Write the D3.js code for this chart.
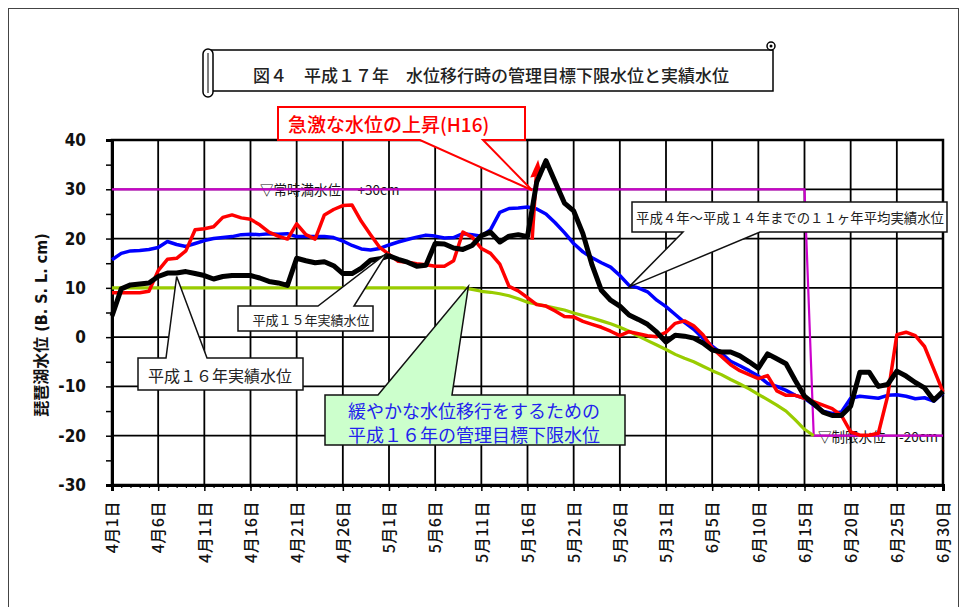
<!DOCTYPE html>
<html><head><meta charset="utf-8">
<script src="https://cdn.jsdelivr.net/npm/d3@7"></script>
<style>
body{margin:0;background:#fff;}
svg{display:block;}
</style></head><body>
<svg id="c" width="965" height="607"></svg>
<script>
// ---------- data ----------
const dayLabels = ["4月1日","4月6日","4月11日","4月16日","4月21日","4月26日","5月1日","5月6日","5月11日","5月16日","5月21日","5月26日","5月31日","6月5日","6月10日","6月15日","6月20日","6月25日","6月30日"];
const dayLabelIndex = [0,5,10,15,20,25,30,35,40,45,50,55,60,65,70,75,80,85,90];
const yTickValues = [-30,-20,-10,0,10,20,30,40];

// 平成4年～平成14年までの11ヶ年平均実績水位 (blue), daily from 4/1
const avgLevel = [15.7,17.0,17.5,17.6,17.8,18.2,19.4,18.8,18.4,19.0,
  19.6,20.0,20.2,20.4,20.8,20.9,20.8,21.0,20.9,21.0,
  20.4,20.4,20.4,20.4,20.2,19.5,18.6,17.9,17.7,18.0,
  18.7,19.3,19.8,20.3,20.7,20.5,20.1,20.2,21.0,20.8,
  20.5,21.8,25.3,26.1,26.2,26.4,26.0,25.0,23.2,21.2,
  19.0,17.3,16.1,15.1,14.2,12.5,10.5,10.0,9.2,7.5,
  6.2,4.6,3.0,1.6,-0.2,-1.8,-3.3,-4.9,-5.8,-6.8,
  -7.9,-9.4,-10.0,-10.8,-11.8,-12.4,-13.8,-15.0,-15.5,-15.2,
  -12.4,-12.0,-12.2,-12.4,-11.8,-11.7,-12.0,-12.5,-12.3,-13.0,-11.3];

// red series, daily from 4/1
const redLevel = [9.0,9.0,9.0,9.0,9.3,13.5,15.8,16.0,17.5,21.8,
  22.0,22.4,24.3,24.8,24.2,23.9,22.8,21.3,20.5,19.9,
  23.0,20.8,19.9,24.8,25.9,26.7,26.8,23.5,20.8,18.2,
  16.8,15.4,15.2,14.9,14.7,14.4,14.4,15.5,21.3,20.3,
  18.0,17.0,14.8,10.3,9.4,8.0,6.6,6.3,5.3,4.2,
  4.1,3.2,2.6,2.0,1.2,0.3,1.1,0.7,0.3,0.1,
  1.0,2.8,3.3,2.3,0.5,-2.2,-3.9,-5.6,-6.8,-7.6,
  -8.4,-7.8,-10.9,-11.8,-11.8,-12.4,-13.1,-13.8,-14.5,-15.9,
  -19.2,-19.9,-19.9,-19.5,-12.0,0.5,1.0,0.3,-1.9,-6.5,-11.1];

// black series, daily from 4/1
const blackLevel = [4.3,9.8,10.6,10.8,11.0,12.3,13.0,13.0,13.3,12.9,
  12.5,11.8,12.3,12.5,12.5,12.5,12.0,11.3,11.0,10.5,
  16.0,15.5,15.1,15.3,14.5,12.9,12.9,14.0,15.6,15.9,
  16.5,15.8,15.2,14.4,14.6,19.0,18.9,18.1,17.8,18.6,
  20.6,21.3,19.3,20.5,20.8,20.4,31.5,35.8,31.5,27.2,
  25.6,21.0,14.6,9.5,7.5,6.3,4.5,3.6,2.6,1.0,
  -1.0,0.4,0.2,-0.2,-1.2,-2.6,-3.0,-3.0,-3.8,-5.0,
  -6.3,-3.4,-4.4,-5.4,-8.8,-12.0,-13.5,-15.2,-15.9,-15.9,
  -14.0,-7.1,-7.1,-10.0,-9.6,-6.9,-7.9,-9.2,-10.3,-12.8,-11.0];

// 平成16年の管理目標下限水位 (green), daily from 4/1 to 6/16
const targetLevel = [10,10,10,10,10,10,10,10,10,10,
  10,10,10,10,10,10,10,10,10,10,
  10,10,10,10,10,10,10,10,10,10,
  10,10,10,10,10,10,10,10,10,9.7,
  9.3,9.1,8.8,8.4,7.8,7.1,6.7,6.3,5.9,5.5,
  4.9,4.4,3.9,3.3,2.7,2.0,1.2,0.2,-0.7,-1.6,
  -2.5,-3.5,-4.3,-5.0,-5.9,-6.8,-7.6,-8.6,-9.5,-10.5,
  -11.6,-12.7,-13.8,-15.0,-16.8,-18.7,-20.0];

// 常時満水位 +30cm / 制限水位 -20cm (magenta)
const ruleDays = [0,75,76,90];
const ruleLevel = [30,30,-20,-20];

// ---------- drawing ----------
const svg = d3.select('#c');
const JP = '"Noto Sans CJK JP","Noto Sans CJK SC",sans-serif';
const NARROW = '"Liberation Sans Narrow","DejaVu Sans Condensed","Liberation Sans",sans-serif';

const x = d3.scaleLinear().domain([0,90]).range([112,943]);
const y = d3.scaleLinear().domain([-30,40]).range([485,140]);

// outer chart border
svg.append('rect').attr('x',8.5).attr('y',8.5).attr('width',950).attr('height',640)
  .attr('fill','none').attr('stroke','#444').attr('stroke-width',1);

// title banner
const tb = svg.append('g');
tb.append('rect').attr('x',209).attr('y',50).attr('width',564).attr('height',41)
  .attr('fill','#fff').attr('stroke','#000').attr('stroke-width',1.5);
tb.append('rect').attr('x',203).attr('y',49).attr('width',10).attr('height',48).attr('rx',5)
  .attr('fill','#fff').attr('stroke','#000').attr('stroke-width',1.5);
tb.append('line').attr('x1',208).attr('x2',208).attr('y1',53).attr('y2',93).attr('stroke','#000').attr('stroke-width',1);
tb.append('circle').attr('cx',771).attr('cy',46).attr('r',4)
  .attr('fill','#fff').attr('stroke','#000').attr('stroke-width',1.5);
tb.append('circle').attr('cx',771).attr('cy',46).attr('r',1.5).attr('fill','#000');
tb.append('text').attr('x',491).attr('y',74).attr('text-anchor','middle').attr('dominant-baseline','central')
  .attr('font-family',JP).attr('font-size',17).attr('font-weight','500').attr('fill','#222')
  .text('図４　平成１７年　水位移行時の管理目標下限水位と実績水位');

// grid
const grid = svg.append('g');
grid.selectAll('line.v').data(d3.range(5,90,5)).join('line').attr('class','v')
  .attr('x1',d=>x(d)).attr('x2',d=>x(d)).attr('y1',y(40)).attr('y2',y(-30))
  .attr('stroke','#000').attr('stroke-width',1.8);
grid.selectAll('line.h').data(d3.range(-20,40,10)).join('line').attr('class','h')
  .attr('x1',x(0)).attr('x2',x(90)).attr('y1',d=>y(d)).attr('y2',d=>y(d))
  .attr('stroke','#000').attr('stroke-width',1.8);
svg.append('rect').attr('x',x(0)).attr('y',y(40)).attr('width',x(90)-x(0)).attr('height',y(-30)-y(40))
  .attr('fill','none').attr('stroke','#000').attr('stroke-width',2.5);

// axes
const yAxis = svg.append('g').attr('transform',`translate(${x(0)},0)`)
  .call(d3.axisLeft(y).tickValues(d3.range(-30,41,5)).tickSize(6).tickPadding(20)
    .tickFormat(d=> yTickValues.includes(d) ? String(d) : ''));
yAxis.select('.domain').attr('stroke-width',3);
yAxis.selectAll('.tick line').attr('stroke-width',1.5);
yAxis.selectAll('text').attr('font-family',NARROW).attr('font-weight','bold').attr('font-size',17).attr('fill','#111');

const xMinor = svg.append('g').attr('transform',`translate(0,${y(-30)})`)
  .call(d3.axisBottom(x).tickValues(d3.range(0,91,1)).tickSize(3).tickFormat(''));
xMinor.select('.domain').remove();
xMinor.selectAll('.tick line').attr('stroke-width',1.2);
const xAxis = svg.append('g').attr('transform',`translate(0,${y(-30)})`)
  .call(d3.axisBottom(x).tickValues(dayLabelIndex).tickSize(6).tickFormat((d,i)=>dayLabels[i]));
xAxis.select('.domain').attr('stroke-width',3);
xAxis.selectAll('.tick line').attr('stroke-width',1.5);
xAxis.selectAll('text').attr('transform','rotate(-90)').attr('text-anchor','end')
  .attr('x',-16).attr('y',0).attr('dy','0.36em')
  .attr('font-family',JP).attr('font-size',16).attr('font-weight','500').attr('fill','#111').attr('letter-spacing','0.5px');

// y axis title
svg.append('text').attr('transform','translate(41,325) rotate(-90)').attr('text-anchor','middle')
  .attr('dominant-baseline','central').attr('font-family',NARROW+',"Noto Sans CJK JP"')
  .attr('font-weight','bold').attr('font-size',16).attr('fill','#111')
  .text('琵琶湖水位 (B. S. L. cm)');

// reference labels
svg.append('text').attr('x',260).attr('y',y(30)).attr('dominant-baseline','central')
  .attr('font-family',JP).attr('font-size',13.5).attr('fill','#111').text('▽常時満水位　 +30cm');
svg.append('text').attr('x',818).attr('y',y(-20)).attr('dominant-baseline','central')
  .attr('font-family',JP).attr('font-size',13.5).attr('fill','#111').text('▽制限水位　-20cm');

// series
const lineIdx = d3.line().x((d,i)=>x(i)).y(d=>y(d));
const ruleLine = d3.line().x((d,i)=>x(ruleDays[i])).y(d=>y(d));
svg.append('path').attr('d',ruleLine(ruleLevel)).attr('fill','none').attr('stroke','#cc00cc').attr('stroke-width',2.2);
svg.append('path').attr('d',lineIdx(targetLevel)).attr('fill','none').attr('stroke','#99cc00').attr('stroke-width',3.2).attr('stroke-linejoin','round');
svg.append('path').attr('d',lineIdx(avgLevel)).attr('fill','none').attr('stroke','#0000ff').attr('stroke-width',3.5).attr('stroke-linejoin','round');
svg.append('path').attr('d',lineIdx(redLevel)).attr('fill','none').attr('stroke','#ff0000').attr('stroke-width',3.5).attr('stroke-linejoin','round');

// red arrow (rapid rise)
const ax0 = x(45.5), ay0 = y(19.8), ax1 = x(45.95), ay1 = y(32.6), atx = x(46.15), aty = y(36.0);
svg.append('line').attr('x1',ax0).attr('y1',ay0).attr('x2',ax1).attr('y2',ay1).attr('stroke','#ff0000').attr('stroke-width',3.5);
svg.append('path').attr('d',`M${ax1-6},${ay1+1}L${atx},${aty}L${ax1+6},${ay1-1}Z`).attr('fill','#ff0000');

svg.append('path').attr('d',lineIdx(blackLevel)).attr('fill','none').attr('stroke','#000').attr('stroke-width',5).attr('stroke-linejoin','round');

// callouts
function callout(d, fill, stroke, sw){
  svg.append('path').attr('d',d).attr('fill',fill).attr('stroke',stroke).attr('stroke-width',sw).attr('stroke-linejoin','miter');
}
// 平成16年実績水位
{ const tx=x(7.0), ty=y(12.3);
  callout(`M138,358L166,358L${tx},${ty}L207,358L303,358L303,390L138,390Z`,'#fff','#111',1.5);
  svg.append('text').attr('x',220).attr('y',375).attr('text-anchor','middle').attr('dominant-baseline','central')
    .attr('font-family',JP).attr('font-size',16).attr('fill','#222').text('平成１６年実績水位'); }
// 平成15年実績水位
{ const tx=x(29.8), ty=y(17.1);
  callout(`M238,306L318,306L${tx},${ty}L354,306L373,306L373,331L238,331Z`,'#fff','#111',1.5);
  svg.append('text').attr('x',311).attr('y',319).attr('text-anchor','middle').attr('dominant-baseline','central')
    .attr('font-family',JP).attr('font-size',13).attr('fill','#222').text('平成１５年実績水位'); }
// 11ヶ年平均
{ const tx=x(56.0), ty=y(10.2);
  callout(`M632,202L947,202L947,232L760,232L${tx},${ty}L683,232L632,232Z`,'#fff','#111',1.5);
  svg.append('text').attr('x',790).attr('y',217).attr('text-anchor','middle').attr('dominant-baseline','central')
    .attr('font-family',JP).attr('font-size',13.4).attr('fill','#222').text('平成４年～平成１４年までの１１ヶ年平均実績水位'); }
// 管理目標下限水位
{ const tx=x(38.6), ty=y(10.3);
  callout(`M325,395L378,395L${tx},${ty}L452,395L625,395L625,445L325,445Z`,'#ccffcc','#111',1.5);
  svg.append('text').attr('x',474).attr('y',410).attr('text-anchor','middle').attr('dominant-baseline','central')
    .attr('font-family',JP).attr('font-size',18).attr('fill','#2222ee').text('緩やかな水位移行をするための');
  svg.append('text').attr('x',474).attr('y',434).attr('text-anchor','middle').attr('dominant-baseline','central')
    .attr('font-family',JP).attr('font-size',18).attr('fill','#2222ee').text('平成１６年の管理目標下限水位'); }
// 急激な水位の上昇(H16)
{ const tx=x(45.5), ty=y(29.8);
  callout(`M278,107L525,107L525,140L483,140L${tx},${ty}L420,140L278,140Z`,'#fff','#ff0000',2);
  svg.append('text').attr('x',288).attr('y',123).attr('dominant-baseline','central')
    .attr('font-family',JP).attr('font-size',19).attr('font-weight','500').attr('fill','#ff0000').text('急激な水位の上昇(H16)'); }
</script>
</body></html>
